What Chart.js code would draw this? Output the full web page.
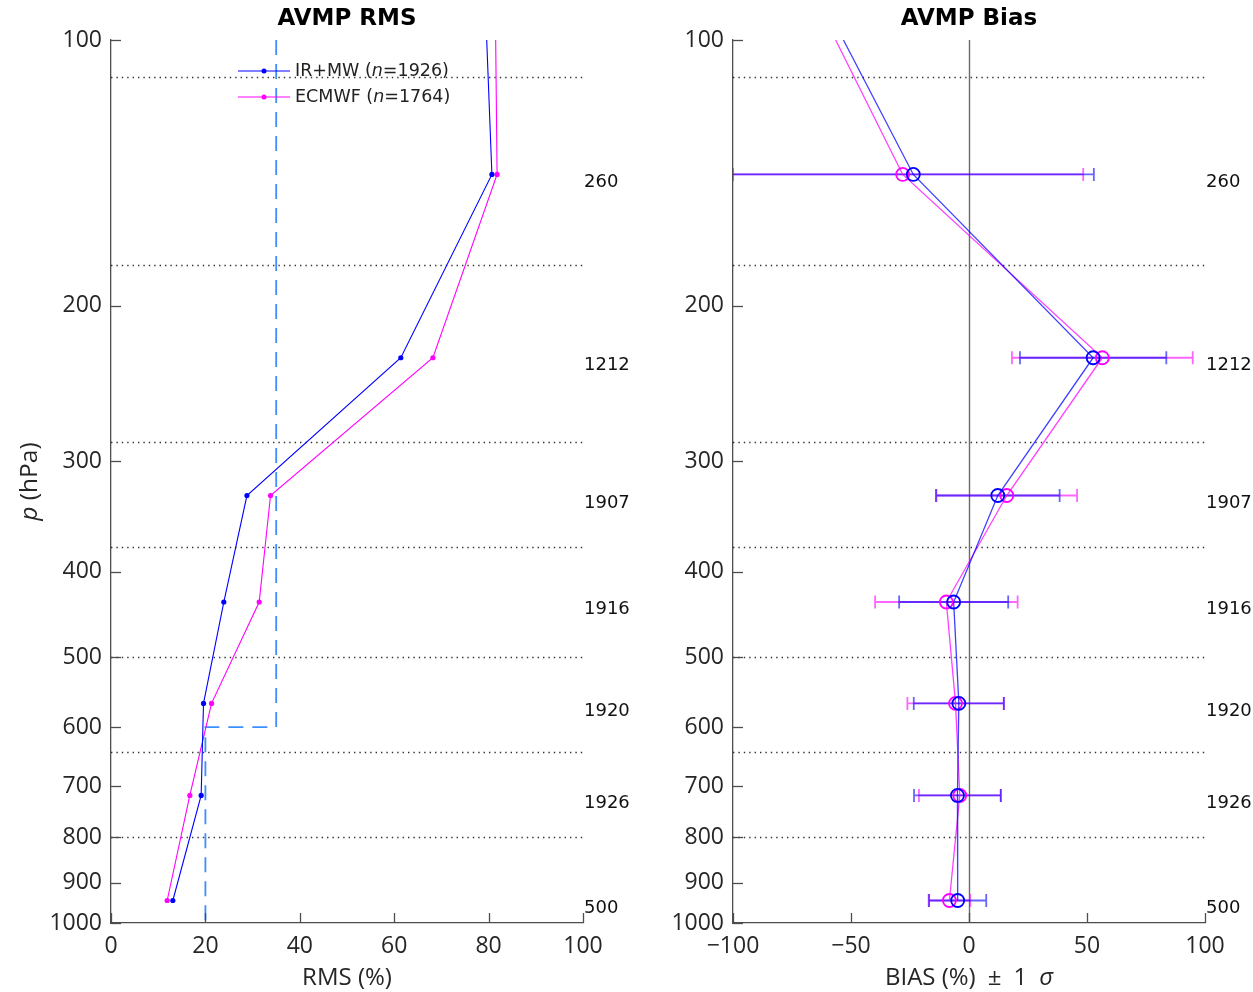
<html>
<head>
<meta charset="UTF-8">
<title>AVMP RMS / Bias</title>
<script src="https://cdnjs.cloudflare.com/ajax/libs/Chart.js/4.4.1/chart.umd.min.js"></script>
<style>
    body { margin: 0; background: #fff; }
    #wrap { position: relative; width: 1253px; height: 992px; }
    canvas { position: absolute; top: 0; }
</style>
</head>
<body>
<div id="wrap">
    <canvas id="rmsChart" width="640" height="992" style="left:0px"></canvas>
    <canvas id="biasChart" width="613" height="992" style="left:640px"></canvas>
</div>

<script>
    // pressure of each layer (hPa), sample counts printed at the right
    var pressure = [142, 229, 328, 433, 564, 717, 943];
    var counts = ['260', '1212', '1907', '1916', '1920', '1926', '500'];
    var layerEdges = [110, 180, 285, 375, 500, 640, 800];
    var yTicks = [100, 200, 300, 400, 500, 600, 700, 800, 900, 1000];

    // RMS (%)
    var rmsIrMw = [80.7, 61.4, 28.8, 23.9, 19.6, 19.1, 13.1];
    var rmsEcmwf = [81.8, 68.2, 33.8, 31.4, 21.3, 16.7, 11.9];
    var rmsTopIrMw = 79.6, rmsTopEcmwf = 81.5;   // where the lines leave the top at 100 hPa

    // requirement line
    var threshRms = [35, 35, 20, 20];
    var threshP = [100, 600, 600, 1000];

    // Bias (%) and 1 sigma
    var biasIrMw = [-23.6, 52.6, 12.2, -6.5, -4.3, -4.9, -4.8];
    var sigmaIrMw = [76.5, 31.0, 26.2, 23.1, 19.1, 18.4, 12.1];
    var biasEcmwf = [-28.1, 56.5, 16.0, -9.6, -5.7, -3.9, -8.3];
    var sigmaEcmwf = [76.5, 38.3, 29.8, 30.2, 20.4, 17.3, 8.8];
    var biasTopIrMw = -53.2, biasTopEcmwf = -56.5;

    var nIrMw = 1926, nEcmwf = 1764;

    var BLUE = '#0000ff', MAGENTA = '#ff00ff';
    var AXIS = '#4d4d4d', TXT = '#262626';
    var TICKFONT = 23;

    function profile(values, topValue) {
        var pts = [{x: topValue, y: 100}];
        for (var i = 0; i < pressure.length; i++) {
            pts.push({x: values[i], y: pressure[i]});
        }
        return pts;
    }

    function xAxis(min, max, step) {
        return {
            type: 'linear', position: 'bottom', min: min, max: max,
            afterFit: function (s) { s.height = 69; },
            ticks: {
                stepSize: step, padding: 10, color: TXT, autoSkip: false, maxRotation: 0,
                font: {family: 'Open Sans', size: TICKFONT},
                callback: function (v) { return String(v).replace('-', '\u2212'); }
            },
            grid: {display: false, drawTicks: false},
            border: {display: true, color: AXIS, width: 1.3}
        };
    }

    function yAxis(w) {
        return {
            type: 'logarithmic', position: 'left', reverse: true, min: 100, max: 1000,
            afterFit: function (s) { s.width = w; },
            afterBuildTicks: function (s) {
                s.ticks = yTicks.map(function (v) { return {value: v}; });
            },
            ticks: {
                padding: 9, color: TXT, autoSkip: false,
                font: {family: 'Open Sans', size: TICKFONT},
                callback: function (v) { return String(v); }
            },
            grid: {display: false, drawTicks: false},
            border: {display: true, color: AXIS, width: 1.3}
        };
    }

    // text with some italic pieces, parts = [[text, italic], ...]
    function mixedText(ctx, parts, x, y, size, family) {
        var total = 0;
        parts.forEach(function (p) {
            ctx.font = (p[1] ? 'italic ' : '') + size + 'px "' + family + '"';
            total += ctx.measureText(p[0]).width;
        });
        var cx = x - total / 2;
        ctx.textAlign = 'left';
        ctx.textBaseline = 'middle';
        parts.forEach(function (p) {
            ctx.font = (p[1] ? 'italic ' : '') + size + 'px "' + family + '"';
            ctx.fillText(p[0], cx, y);
            cx += ctx.measureText(p[0]).width;
        });
    }

    function decor(title, xTitle, yTitle, zeroLine) {
        return {
            id: 'decor',
            beforeDatasetsDraw: function (chart) {
                var ctx = chart.ctx, a = chart.chartArea;
                var ys = chart.scales.y, xs = chart.scales.x;
                ctx.save();
                ctx.strokeStyle = '#333';
                ctx.lineWidth = 1.4;
                ctx.setLineDash([1.4, 4]);
                layerEdges.forEach(function (p) {
                    var py = Math.round(ys.getPixelForValue(p)) + 0.5;
                    ctx.beginPath();
                    ctx.moveTo(a.left, py);
                    ctx.lineTo(a.right, py);
                    ctx.stroke();
                });
                ctx.setLineDash([]);
                if (zeroLine) {
                    var px = Math.round(xs.getPixelForValue(0)) + 0.5;
                    ctx.strokeStyle = '#6a6a6a';
                    ctx.lineWidth = 1.4;
                    ctx.beginPath();
                    ctx.moveTo(px, a.top);
                    ctx.lineTo(px, a.bottom);
                    ctx.stroke();
                }
                ctx.restore();
            },
            afterDraw: function (chart) {
                var ctx = chart.ctx, a = chart.chartArea;
                var ys = chart.scales.y, xs = chart.scales.x;
                ctx.save();
                // inward tick marks
                ctx.strokeStyle = AXIS;
                ctx.lineWidth = 1.3;
                yTicks.forEach(function (v) {
                    var py = Math.round(ys.getPixelForValue(v)) + 0.5;
                    ctx.beginPath();
                    ctx.moveTo(a.left, py);
                    ctx.lineTo(a.left + 10, py);
                    ctx.stroke();
                });
                xs.ticks.forEach(function (t) {
                    var px = Math.round(xs.getPixelForValue(t.value)) + 0.5;
                    ctx.beginPath();
                    ctx.moveTo(px, a.bottom);
                    ctx.lineTo(px, a.bottom - 10);
                    ctx.stroke();
                });

                // title
                ctx.fillStyle = '#000';
                ctx.font = 'bold 23px "DejaVu Sans"';
                ctx.textAlign = 'center';
                ctx.textBaseline = 'middle';
                ctx.fillText(title, (a.left + a.right) / 2, 19);

                // axis titles
                ctx.fillStyle = TXT;
                mixedText(ctx, xTitle, (a.left + a.right) / 2, 978, 24, 'Open Sans');
                if (yTitle) {
                    ctx.save();
                    ctx.translate(30, (a.top + a.bottom) / 2);
                    ctx.rotate(-Math.PI / 2);
                    mixedText(ctx, yTitle, 0, 0, 24.5, 'Open Sans');
                    ctx.restore();
                }

                // sample counts
                ctx.fillStyle = '#111';
                ctx.font = '18px "DejaVu Sans"';
                ctx.textAlign = 'left';
                ctx.textBaseline = 'middle';
                for (var i = 0; i < pressure.length; i++) {
                    ctx.fillText(counts[i], a.right + 1, ys.getPixelForValue(pressure[i]) + 7.5);
                }
                ctx.restore();
            }
        };
    }

    var legendPlugin = {
        id: 'rmsLegend',
        afterDraw: function (chart) {
            var ctx = chart.ctx;
            var rows = [[BLUE, 'IR+MW (', nIrMw, 71], [MAGENTA, 'ECMWF (', nEcmwf, 97]];
            ctx.save();
            rows.forEach(function (r) {
                ctx.strokeStyle = r[0];
                ctx.fillStyle = r[0];
                ctx.lineWidth = 1.2;
                ctx.beginPath();
                ctx.moveTo(238, r[3]);
                ctx.lineTo(290, r[3]);
                ctx.stroke();
                ctx.beginPath();
                ctx.arc(264, r[3], 2.5, 0, Math.PI * 2);
                ctx.fill();
                ctx.fillStyle = '#222';
                ctx.textAlign = 'left';
                ctx.textBaseline = 'middle';
                var x = 295;
                var parts = [[r[1], false], ['n', true], ['=' + r[2] + ')', false]];
                parts.forEach(function (p) {
                    ctx.font = (p[1] ? 'italic ' : '') + '17.5px "DejaVu Sans"';
                    ctx.fillText(p[0], x, r[3]);
                    x += ctx.measureText(p[0]).width;
                });
            });
            ctx.restore();
        }
    };

    var errorBarPlugin = {
        id: 'errorBars',
        beforeDatasetsDraw: function (chart) {
            var ctx = chart.ctx, a = chart.chartArea;
            var xs = chart.scales.x, ys = chart.scales.y;
            var sets = [[biasEcmwf, sigmaEcmwf, 'rgba(255,0,255,0.6)'], [biasIrMw, sigmaIrMw, 'rgba(0,0,255,0.6)']];
            ctx.save();
            ctx.beginPath();
            ctx.rect(a.left, a.top, a.right - a.left, a.bottom - a.top);
            ctx.clip();
            ctx.lineWidth = 1.8;
            sets.forEach(function (s) {
                ctx.strokeStyle = s[2];
                for (var i = 0; i < pressure.length; i++) {
                    var py = ys.getPixelForValue(pressure[i]);
                    var x1 = xs.getPixelForValue(s[0][i] - s[1][i]);
                    var x2 = xs.getPixelForValue(s[0][i] + s[1][i]);
                    ctx.beginPath();
                    ctx.moveTo(x1, py); ctx.lineTo(x2, py);
                    ctx.moveTo(x1, py - 6.5); ctx.lineTo(x1, py + 6.5);
                    ctx.moveTo(x2, py - 6.5); ctx.lineTo(x2, py + 6.5);
                    ctx.stroke();
                }
            });
            ctx.restore();
        }
    };

    function hideTop(r) {
        return function (c) { return c.dataIndex === 0 ? 0 : r; };
    }

    var baseOptions = function (rightPad, yw, xmin, xmax, step) {
        return {
            responsive: false,
            animation: false,
            devicePixelRatio: 1,
            layout: {padding: {top: 40, bottom: 0, left: 0, right: rightPad}},
            plugins: {legend: {display: false}, tooltip: {enabled: false}},
            scales: {x: xAxis(xmin, xmax, step), y: yAxis(yw)}
        };
    };

    var threshData = threshRms.map(function (v, i) { return {x: v, y: threshP[i]}; });

    var rmsChart = new Chart(document.getElementById('rmsChart'), {
        type: 'scatter',
        data: {
            datasets: [
                {label: 'IR+MW', data: profile(rmsIrMw, rmsTopIrMw), showLine: true,
                    borderColor: BLUE, backgroundColor: BLUE, borderWidth: 1.1,
                    pointRadius: hideTop(2.6), pointBorderWidth: 0},
                {label: 'ECMWF', data: profile(rmsEcmwf, rmsTopEcmwf), showLine: true,
                    borderColor: MAGENTA, backgroundColor: MAGENTA, borderWidth: 1.1,
                    pointRadius: hideTop(2.6), pointBorderWidth: 0},
                {label: 'requirement', data: threshData, showLine: true,
                    borderColor: '#3d8eff', borderWidth: 1.8, borderDash: [15, 9], pointRadius: 0}
            ]
        },
        options: baseOptions(57, 111, 0, 100, 20),
        plugins: [decor('AVMP RMS', [['RMS (%)', false]], [['p', true], [' (hPa)', false]], false), legendPlugin]
    });

    var biasChart = new Chart(document.getElementById('biasChart'), {
        type: 'scatter',
        data: {
            datasets: [
                {label: 'IR+MW', data: profile(biasIrMw, biasTopIrMw), showLine: true,
                    borderColor: 'rgba(0,0,255,0.75)', borderWidth: 1.3,
                    pointRadius: hideTop(6.5), pointBorderColor: BLUE, pointBorderWidth: 1.8,
                    pointBackgroundColor: 'rgba(0,0,0,0)'},
                {label: 'ECMWF', data: profile(biasEcmwf, biasTopEcmwf), showLine: true,
                    borderColor: 'rgba(255,0,255,0.75)', borderWidth: 1.3,
                    pointRadius: hideTop(6.5), pointBorderColor: MAGENTA, pointBorderWidth: 1.8,
                    pointBackgroundColor: 'rgba(0,0,0,0)'}
            ]
        },
        options: baseOptions(48, 93, -100, 100, 50),
        plugins: [decor('AVMP Bias',
            [['BIAS (%)', false], ['\u2002\u00b1\u2002', false], ['1', false], ['\u2002', false], ['\u03c3', true]],
            null, true), errorBarPlugin]
    });
</script>
</body>
</html>
